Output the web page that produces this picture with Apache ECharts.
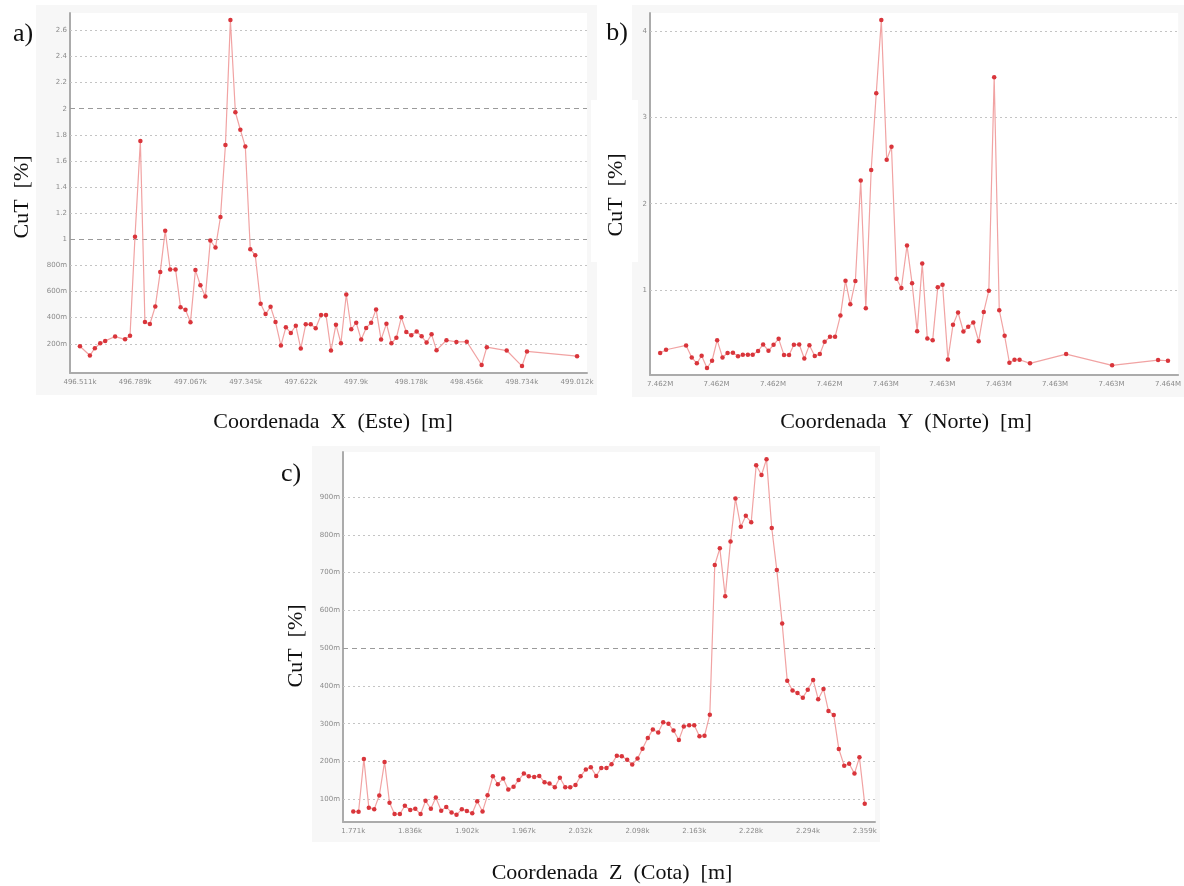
<!DOCTYPE html>
<html>
<head>
<meta charset="utf-8">
<script src="https://cdn.jsdelivr.net/npm/echarts@6/dist/echarts.min.js"></script>
<style>
html,body{margin:0;padding:0;background:#ffffff;}
#chart{width:1184px;height:886px;}
</style>
</head>
<body>
<div id="chart"></div>
<script>
// ---------- Panel a) : Coordenada X (Este) ----------
const xA = [496511,496561,496586,496613,496638,496688,496738,496763,496788,496815,496838,496863,496890,496915,496940,496965,496992,497017,497042,497067,497092,497117,497142,497167,497193,497218,497243,497268,497293,497318,497343,497368,497393,497420,497445,497470,497495,497522,497547,497572,497597,497622,497647,497672,497697,497724,497749,497774,497799,497824,497851,497876,497901,497926,497951,497976,498001,498026,498053,498078,498103,498128,498153,498178,498205,498230,498255,498280,498305,498355,498405,498457,498532,498558,498658,498735,498760,499012];
const yA = [0.181,0.110,0.166,0.204,0.222,0.255,0.234,0.262,1.02,1.753,0.366,0.351,0.485,0.749,1.066,0.769,0.769,0.48,0.46,0.364,0.764,0.648,0.561,0.99,0.937,1.17,1.722,2.68,1.973,1.839,1.71,0.924,0.878,0.506,0.427,0.483,0.366,0.186,0.326,0.283,0.338,0.163,0.349,0.349,0.319,0.42,0.42,0.148,0.346,0.204,0.577,0.311,0.361,0.232,0.321,0.361,0.463,0.232,0.354,0.204,0.245,0.402,0.29,0.265,0.293,0.257,0.209,0.272,0.151,0.227,0.214,0.216,0.037,0.174,0.148,0.029,0.141,0.105];
const tickXA = [496511,496788.9,497066.8,497344.7,497622.6,497900.4,498178.3,498456.2,498734.1,499012];
const labelXA = ['496.511k','496.789k','497.067k','497.345k','497.622k','497.9k','498.178k','498.456k','498.734k','499.012k'];
const tickYA = [0.2,0.4,0.6,0.8,1,1.2,1.4,1.6,1.8,2,2.2,2.4,2.6];
const majorYA = [1,2];

// ---------- Panel b) : Coordenada Y (Norte) ----------
const xB = [7461800,7461821,7461892,7461912,7461930,7461947,7461966,7461984,7462002,7462021,7462039,7462058,7462076,7462093,7462111,7462128,7462147,7462165,7462184,7462202,7462220,7462239,7462257,7462274,7462293,7462311,7462329,7462348,7462366,7462383,7462402,7462420,7462439,7462457,7462474,7462492,7462511,7462529,7462548,7462566,7462584,7462603,7462620,7462638,7462655,7462675,7462693,7462711,7462729,7462747,7462766,7462784,7462801,7462820,7462838,7462856,7462875,7462892,7462910,7462929,7462947,7462965,7462984,7463002,7463021,7463038,7463056,7463074,7463111,7463239,7463402,7463565,7463600];
const yB = [0.269,0.308,0.358,0.219,0.15,0.238,0.096,0.18,0.419,0.219,0.269,0.273,0.231,0.25,0.25,0.25,0.292,0.369,0.296,0.365,0.434,0.246,0.246,0.365,0.369,0.207,0.361,0.234,0.257,0.4,0.457,0.457,0.704,1.108,0.834,1.104,2.27,0.788,2.39,3.28,4.13,2.51,2.66,1.131,1.023,1.516,1.077,0.523,1.308,0.438,0.419,1.031,1.062,0.196,0.596,0.739,0.519,0.573,0.623,0.407,0.746,0.992,3.464,0.766,0.469,0.157,0.192,0.192,0.15,0.257,0.127,0.188,0.18];
const tickXB = [7461800,7462000,7462200,7462400,7462600,7462800,7463000,7463200,7463400,7463600];
const labelXB = ['7.462M','7.462M','7.462M','7.462M','7.463M','7.463M','7.463M','7.463M','7.463M','7.464M'];
const tickYB = [1,2,3,4];
const majorYB = [];

// ---------- Panel c) : Coordenada Z (Cota) ----------
const xC = [1771,1777.1,1783.2,1788.9,1795.1,1800.9,1807,1812.7,1818.5,1824.6,1830.3,1836.5,1842.3,1848.4,1854.1,1860.2,1865.9,1872.1,1877.9,1884,1889.7,1895.8,1901.6,1907.8,1913.5,1919.6,1925.4,1931.5,1937.2,1943.4,1949.2,1955.3,1961,1967.1,1972.8,1979,1984.8,1990.9,1996.6,2002.7,2008.5,2014.7,2020.4,2026.5,2032.3,2038.4,2044.1,2050.3,2056.1,2062.1,2067.9,2074,2079.7,2085.9,2091.7,2097.8,2103.5,2109.6,2115.4,2121.6,2127.3,2133.4,2139.2,2145.3,2151,2157.2,2163,2169,2174.8,2180.9,2186.6,2192.4,2198.6,2204.7,2210.4,2216.5,2222.3,2228.5,2234.2,2240.3,2246.1,2252.1,2257.9,2264.1,2269.9,2276,2281.7,2287.8,2293.5,2299.7,2305.5,2311.6,2317.3,2323.4,2329.2,2335.4,2341.1,2347.2,2352.9,2359];
const yC = [0.068,0.067,0.207,0.078,0.074,0.11,0.199,0.091,0.061,0.061,0.083,0.072,0.075,0.061,0.096,0.075,0.105,0.07,0.08,0.065,0.059,0.074,0.069,0.063,0.095,0.068,0.111,0.161,0.14,0.155,0.126,0.133,0.151,0.168,0.161,0.159,0.162,0.145,0.142,0.132,0.157,0.132,0.132,0.138,0.161,0.179,0.185,0.162,0.183,0.183,0.193,0.215,0.214,0.205,0.192,0.208,0.234,0.262,0.285,0.277,0.304,0.3,0.282,0.257,0.293,0.296,0.296,0.267,0.268,0.324,0.72,0.764,0.637,0.782,0.896,0.821,0.85,0.833,0.984,0.958,1.0,0.818,0.707,0.565,0.414,0.388,0.381,0.369,0.39,0.416,0.365,0.392,0.334,0.323,0.233,0.189,0.194,0.168,0.211,0.088];
const tickXC = [1771,1836.3,1901.7,1967,2032.3,2097.7,2163,2228.3,2293.7,2359];
const labelXC = ['1.771k','1.836k','1.902k','1.967k','2.032k','2.098k','2.163k','2.228k','2.294k','2.359k'];
const tickYC = [0.1,0.2,0.3,0.4,0.5,0.6,0.7,0.8,0.9];
const majorYC = [0.5];

// ---------- styling ----------
const LABEL_FONT = 'DejaVu Sans';
const LABEL_COLOR = '#8a8a8a';
const SERIF = '"Liberation Serif", "Times New Roman", serif';
const minorStyle = {color:'#c4c4c4', width:1, type:[2,3]};
const majorStyle = {color:'#9a9a9a', width:1, type:[5,4]};

function yFmt(v){
  if (v < 0.999) return Math.round(v*1000) + 'm';
  return String(Math.round(v*10)/10);
}
function lookup(ticks, labels){
  return function(v){
    let best = 0, d = Infinity;
    for (let i = 0; i < ticks.length; i++){
      const dd = Math.abs(ticks[i]-v);
      if (dd < d){ d = dd; best = i; }
    }
    return labels[best];
  };
}
function gridData(vals, majors){
  return vals.map(v => ({yAxis: v, lineStyle: majors.indexOf(v) >= 0 ? majorStyle : minorStyle}));
}
function xAxisCfg(idx, min, max, ticks, labels){
  return {
    type:'value', gridIndex: idx, min: min, max: max,
    axisLine:{show:true, onZero:false, lineStyle:{color:'#ababab', width:2}},
    axisTick:{show:false},
    splitLine:{show:false},
    axisLabel:{customValues: ticks, formatter: lookup(ticks, labels), fontSize:7, fontFamily:LABEL_FONT, color:LABEL_COLOR, margin:6, hideOverlap:false}
  };
}
function yAxisCfg(idx, min, max, ticks){
  return {
    type:'value', gridIndex: idx, min: min, max: max,
    axisLine:{show:true, onZero:false, lineStyle:{color:'#ababab', width:2}},
    axisTick:{show:false},
    splitLine:{show:false},
    axisLabel:{customValues: ticks, formatter: yFmt, fontSize:7, fontFamily:LABEL_FONT, color:LABEL_COLOR, margin:3}
  };
}
function seriesCfg(idx, xs, ys, grid, majors){
  return {
    type:'line', xAxisIndex: idx, yAxisIndex: idx,
    data: xs.map((x,i) => [x, ys[i]]),
    symbol:'circle', symbolSize:4.5, showSymbol:true,
    itemStyle:{color:'#d9353b'},
    lineStyle:{color:'#f1a3a3', width:1.2},
    emphasis:{disabled:true},
    markLine:{silent:true, animation:false, z:1, symbol:['none','none'], label:{show:false}, data: gridData(grid, majors)}
  };
}

const chart = echarts.init(document.getElementById('chart'), null, {renderer:'canvas'});
chart.setOption({
  animation:false,
  backgroundColor:'#ffffff',
  grid:[
    {left:70, top:13, width:517, height:360, show:true, backgroundColor:'#ffffff', borderWidth:0},
    {left:650, top:13, width:530, height:362, show:true, backgroundColor:'#ffffff', borderWidth:0},
    {left:343, top:452, width:532, height:370, show:true, backgroundColor:'#ffffff', borderWidth:0}
  ],
  xAxis:[
    xAxisCfg(0, 496461, 499062, tickXA, labelXA),
    xAxisCfg(1, 7461764, 7463636, tickXB, labelXB),
    xAxisCfg(2, 1759.2, 2370.8, tickXC, labelXC)
  ],
  yAxis:[
    yAxisCfg(0, -0.024, 2.733, tickYA),
    yAxisCfg(1, 0.015, 4.21, tickYB),
    yAxisCfg(2, 0.04, 1.019, tickYC)
  ],
  series:[
    seriesCfg(0, xA, yA, tickYA, majorYA),
    seriesCfg(1, xB, yB, tickYB, majorYB),
    seriesCfg(2, xC, yC, tickYC, majorYC)
  ],
  graphic:[
    {type:'rect', z:-10, shape:{x:36, y:5, width:561, height:390}, style:{fill:'#f7f7f7'}},
    {type:'rect', z:-10, shape:{x:632, y:5, width:552, height:392}, style:{fill:'#f7f7f7'}},
    {type:'rect', z:-10, shape:{x:312, y:446, width:568, height:396}, style:{fill:'#f7f7f7'}},
    {type:'rect', z:-9, shape:{x:591, y:100, width:47, height:162}, style:{fill:'#ffffff'}},
    {type:'text', z:10, x:23, y:34, style:{text:'a)', font:'26px ' + SERIF, fill:'#111', align:'center', verticalAlign:'middle', textAlign:'center', textVerticalAlign:'middle'}},
    {type:'text', z:10, x:617, y:33, style:{text:'b)', font:'26px ' + SERIF, fill:'#111', align:'center', verticalAlign:'middle', textAlign:'center', textVerticalAlign:'middle'}},
    {type:'text', z:10, x:291, y:474, style:{text:'c)', font:'26px ' + SERIF, fill:'#111', align:'center', verticalAlign:'middle', textAlign:'center', textVerticalAlign:'middle'}},
    {type:'text', z:10, x:22, y:197, rotation:Math.PI/2, style:{text:'CuT  [%]', font:'22px ' + SERIF, fill:'#111', align:'center', verticalAlign:'middle', textAlign:'center', textVerticalAlign:'middle'}},
    {type:'text', z:10, x:616, y:195, rotation:Math.PI/2, style:{text:'CuT  [%]', font:'22px ' + SERIF, fill:'#111', align:'center', verticalAlign:'middle', textAlign:'center', textVerticalAlign:'middle'}},
    {type:'text', z:10, x:296, y:646, rotation:Math.PI/2, style:{text:'CuT  [%]', font:'22px ' + SERIF, fill:'#111', align:'center', verticalAlign:'middle', textAlign:'center', textVerticalAlign:'middle'}},
    {type:'text', z:10, x:333, y:422, style:{text:'Coordenada  X  (Este)  [m]', font:'22px ' + SERIF, fill:'#111', align:'center', verticalAlign:'middle', textAlign:'center', textVerticalAlign:'middle'}},
    {type:'text', z:10, x:906, y:422, style:{text:'Coordenada  Y  (Norte)  [m]', font:'22px ' + SERIF, fill:'#111', align:'center', verticalAlign:'middle', textAlign:'center', textVerticalAlign:'middle'}},
    {type:'text', z:10, x:612, y:873, style:{text:'Coordenada  Z  (Cota)  [m]', font:'22px ' + SERIF, fill:'#111', align:'center', verticalAlign:'middle', textAlign:'center', textVerticalAlign:'middle'}}
  ]
});
</script>
</body>
</html>
